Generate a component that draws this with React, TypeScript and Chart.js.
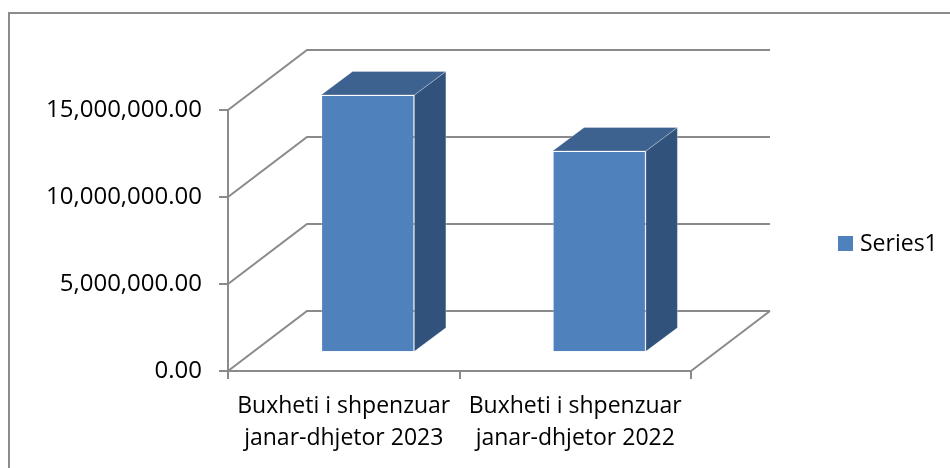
import React, { useEffect, useRef } from 'react';
import { Chart, registerables } from 'chart.js';

Chart.register(...registerables);

// ---- data ----
const categories: string[][] = [
  ['Buxheti i shpenzuar', 'janar-dhjetor 2023'],
  ['Buxheti i shpenzuar', 'janar-dhjetor 2022'],
];
const seriesLabel = 'Series1';
const seriesValues: number[] = [14790000, 11570000];
const yMin = 0;
const yMax = 15000000;
const yStep = 5000000;

// ---- styles ----
const FONT = '"Open Sans", sans-serif';
const GRID = '#8a8a8a';
const GRID_W = 2;
const FRONT = '#4F81BD';
const TOP = '#3D6290';
const SIDE = '#31527B';
const EDGE = 'rgba(255,255,255,0.28)';
const WALL_DX = 79;
const WALL_DY = -60;
const BAR_DX = 24;
const BAR_DY = -18.7;
const DEPTH_DX = 31.5;
const DEPTH_DY = -23.5;

const fmt = (v: number) =>
  v.toLocaleString('en-US', { minimumFractionDigits: 2, maximumFractionDigits: 2 });

const excel3d = {
  id: 'excel3d',
  beforeDraw(chart: any) {
    const { ctx, width, height } = chart;
    ctx.save();
    ctx.fillStyle = '#ffffff';
    ctx.fillRect(0, 0, width, height);
    ctx.fillStyle = '#8c8c8c';
    ctx.fillRect(8, 12, 2, height - 12);
    ctx.fillRect(8, 12, width - 8, 2);
    ctx.restore();
  },
  beforeDatasetsDraw(chart: any) {
    const { ctx, chartArea: a, scales } = chart;
    const ys = scales.y;
    ctx.save();
    ctx.strokeStyle = GRID;
    ctx.lineWidth = GRID_W;
    ctx.beginPath();
    ys.ticks.forEach((t: any) => {
      const py = ys.getPixelForValue(t.value);
      ctx.moveTo(a.left, py);
      ctx.lineTo(a.left + WALL_DX, py + WALL_DY);
      ctx.lineTo(a.right + WALL_DX, py + WALL_DY);
    });
    ctx.moveTo(a.right, a.bottom);
    ctx.lineTo(a.right + WALL_DX, a.bottom + WALL_DY);
    ctx.stroke();
    ctx.restore();
    ctx.save();
    ctx.translate(BAR_DX, BAR_DY);
  },
  afterDatasetsDraw(chart: any) {
    const ctx = chart.ctx;
    chart.getSortedVisibleDatasetMetas().forEach((meta: any) => {
      meta.data.forEach((el: any) => {
        const { x, y, base, width } = el.getProps(['x', 'y', 'base', 'width'], true);
        const l = x - width / 2;
        const r = x + width / 2;
        ctx.lineWidth = 1;
        ctx.strokeStyle = EDGE;
        // side face
        ctx.beginPath();
        ctx.moveTo(r, y);
        ctx.lineTo(r + DEPTH_DX, y + DEPTH_DY);
        ctx.lineTo(r + DEPTH_DX, base + DEPTH_DY);
        ctx.lineTo(r, base);
        ctx.closePath();
        ctx.fillStyle = SIDE;
        ctx.fill();
        ctx.stroke();
        // top face
        ctx.beginPath();
        ctx.moveTo(l, y);
        ctx.lineTo(l + DEPTH_DX, y + DEPTH_DY);
        ctx.lineTo(r + DEPTH_DX, y + DEPTH_DY);
        ctx.lineTo(r, y);
        ctx.closePath();
        ctx.fillStyle = TOP;
        ctx.fill();
        ctx.stroke();
      });
    });
    ctx.restore();
  },
  afterDraw(chart: any) {
    const { ctx } = chart;
    const ds = chart.data.datasets[0];
    ctx.save();
    ctx.fillStyle = ds.backgroundColor;
    ctx.fillRect(838, 236, 15, 15);
    ctx.fillStyle = '#000';
    ctx.font = `23px ${FONT}`;
    ctx.textBaseline = 'middle';
    ctx.textAlign = 'left';
    ctx.fillText(ds.label, 860, 244);
    ctx.restore();
  },
};

export default function App() {
  const ref = useRef<HTMLCanvasElement | null>(null);
  useEffect(() => {
    if (!ref.current) return;
    const chart = new Chart(ref.current, {
      type: 'bar',
      data: {
        labels: categories,
        datasets: [
          {
            label: seriesLabel,
            data: seriesValues,
            backgroundColor: FRONT,
            borderColor: EDGE,
            borderWidth: 1,
            barPercentage: 0.403,
            categoryPercentage: 1,
            clip: false as any,
          },
        ],
      },
      options: {
        animation: false,
        responsive: false,
        maintainAspectRatio: false,
        layout: { padding: { top: 110, right: 259, bottom: 0, left: 0 } },
        plugins: { legend: { display: false }, tooltip: { enabled: false } },
        scales: {
          x: {
            afterFit: (s: any) => {
              s.height = 97;
            },
            grid: {
              offset: true,
              drawOnChartArea: false,
              drawTicks: true,
              tickLength: 8,
              color: GRID,
              lineWidth: GRID_W,
            },
            border: { display: true, color: GRID, width: GRID_W },
            ticks: {
              color: '#000',
              font: { family: FONT, size: 23, lineHeight: 32 / 23 },
              padding: 11,
              maxRotation: 0,
              minRotation: 0,
              autoSkip: false,
            },
          },
          y: {
            min: yMin,
            max: yMax,
            afterFit: (s: any) => {
              s.width = 228;
            },
            grid: {
              drawOnChartArea: false,
              drawTicks: true,
              tickLength: 9,
              color: GRID,
              lineWidth: GRID_W,
            },
            border: { display: true, color: GRID, width: GRID_W },
            ticks: {
              stepSize: yStep,
              color: '#000',
              font: { family: FONT, size: 24 },
              padding: 17,
              callback: (v: any) => fmt(Number(v)),
            },
          },
        },
      },
      plugins: [excel3d],
    });
    return () => chart.destroy();
  }, []);
  return (
    <div style={{ position: 'fixed', left: 0, top: 0, width: 950, height: 468, background: '#fff' }}>
      <canvas ref={ref} width={950} height={468} style={{ display: 'block' }} />
    </div>
  );
}
